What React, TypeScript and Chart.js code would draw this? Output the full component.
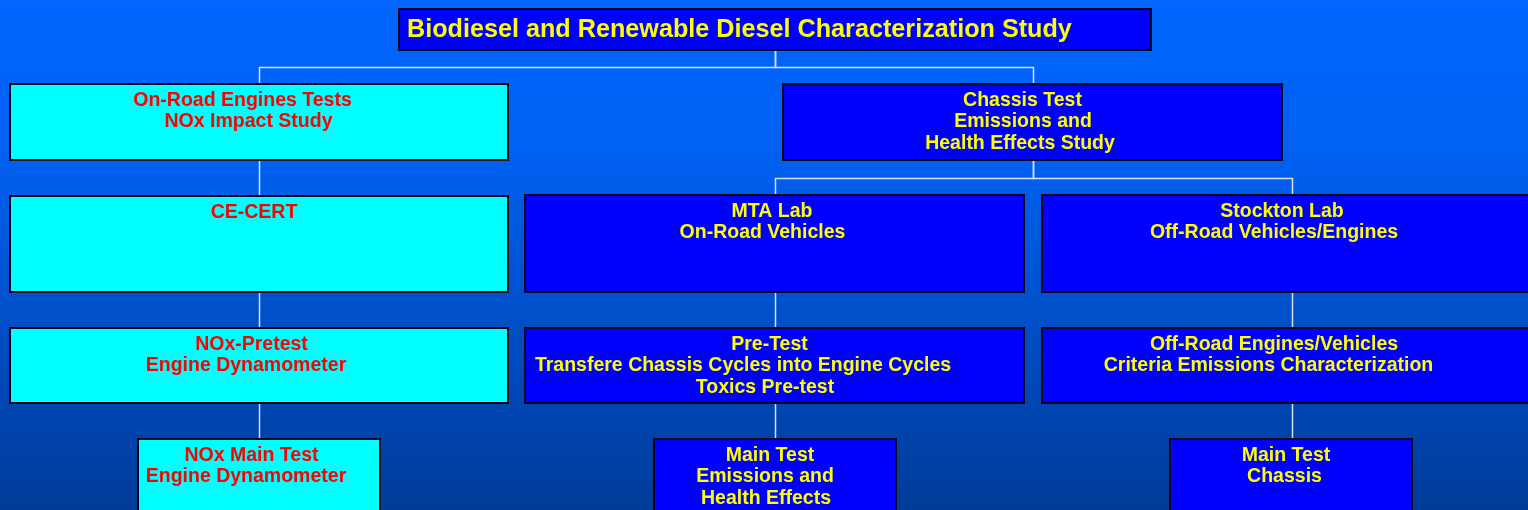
import React, { useEffect, useRef } from "react";
import { Chart, registerables } from "chart.js";

Chart.register(...registerables);

// ---- Data ----
const nodeLabels: string[][] = [
  ["Biodiesel and Renewable Diesel Characterization Study"],
  ["On-Road Engines Tests", "NOx Impact Study"],
  ["Chassis Test", "Emissions and", "Health Effects Study"],
  ["CE-CERT"],
  ["MTA Lab", "On-Road Vehicles"],
  ["Stockton Lab", "Off-Road Vehicles/Engines"],
  ["NOx-Pretest", "Engine Dynamometer"],
  ["Pre-Test", "Transfere Chassis Cycles into Engine Cycles", "Toxics Pre-test"],
  ["Off-Road Engines/Vehicles", "Criteria Emissions Characterization"],
  ["NOx Main Test", "Engine Dynamometer"],
  ["Main Test", "Emissions and", "Health Effects"],
  ["Main Test", "Chassis"],
];
const nodeParents: number[] = [-1, 0, 0, 1, 2, 2, 3, 4, 5, 6, 7, 8];
const nodeBranch: string[] = [
  "root", "engine", "chassis", "engine", "chassis", "chassis",
  "engine", "chassis", "chassis", "engine", "chassis", "chassis",
];

// ---- Layout (positions in scale units) ----
const layoutBoxes: [number, number, number, number][] = [
  [399, 9, 1151, 50],
  [10, 84, 508, 160],
  [783, 84, 1282, 160],
  [10, 196, 508, 292],
  [525, 195, 1024, 292],
  [1042, 195, 1541, 292],
  [10, 328, 508, 403],
  [525, 328, 1024, 403],
  [1042, 328, 1541, 403],
  [138, 439, 380, 516],
  [654, 439, 896, 516],
  [1170, 439, 1412, 516],
];
// horizontal shift of each text line from box centre (text-box inset / trailing spaces)
const layoutLineShift: number[][] = [
  [0],
  [-16.5, -10.5],
  [-10, -9.5, -12.5],
  [-5],
  [-2.5, -12],
  [-9.5, -17.5],
  [-7.5, -13],
  [-5, -31.5, -9.5],
  [-17.5, -23],
  [-7.5, -13],
  [-5, -10, -9],
  [-5, -6.5],
];

const STYLE: Record<string, { fill: string; text: string }> = {
  root: { fill: "#0000FF", text: "#FFFF00" },
  engine: { fill: "#00FFFF", text: "#FF0000" },
  chassis: { fill: "#0000FF", text: "#FFFF00" },
};

const W = 1528;
const H = 510;

const orgPlugin = {
  id: "orgchart",
  beforeDraw(chart: any) {
    const ctx = chart.ctx as CanvasRenderingContext2D;
    const g = ctx.createLinearGradient(0, 0, 0, chart.height);
    g.addColorStop(0, "#0066FF");
    g.addColorStop(0.3, "#0061F2");
    g.addColorStop(1, "#003B98");
    ctx.save();
    ctx.fillStyle = g;
    ctx.fillRect(0, 0, chart.width, chart.height);
    ctx.restore();
  },
  afterDatasetsDraw(chart: any) {
    const ctx = chart.ctx as CanvasRenderingContext2D;
    const xs = chart.scales.x;
    const ys = chart.scales.y;
    const px = (v: number) => xs.getPixelForValue(v);
    const py = (v: number) => ys.getPixelForValue(v);
    const rect = (i: number) => {
      const [x0, y0, x1, y1] = layoutBoxes[i];
      return { l: px(x0), t: py(y0), r: px(x1), b: py(y1) };
    };

    // connectors
    ctx.save();
    ctx.strokeStyle = "#D6E0F8";
    ctx.lineWidth = 1.5;
    nodeParents.forEach((p, i) => {
      if (p < 0) return;
      const a = rect(p);
      const c = rect(i);
      const ax = Math.round((a.l + a.r) / 2) + 0.5;
      const cx = Math.round((c.l + c.r) / 2) + 0.5;
      const mid = Math.round((a.b + c.t) / 2) + 0.5;
      ctx.beginPath();
      if (Math.abs(ax - cx) < 3) {
        ctx.moveTo(ax, a.b);
        ctx.lineTo(ax, c.t);
      } else {
        ctx.moveTo(ax, a.b);
        ctx.lineTo(ax, mid);
        ctx.lineTo(cx, mid);
        ctx.lineTo(cx, c.t);
      }
      ctx.stroke();
    });
    ctx.restore();

    // boxes
    nodeLabels.forEach((lines, i) => {
      const r = rect(i);
      const st = STYLE[nodeBranch[i]];
      ctx.save();
      ctx.fillStyle = st.fill;
      ctx.fillRect(r.l, r.t, r.r - r.l, r.b - r.t);
      ctx.strokeStyle = "#06061A";
      ctx.lineWidth = 2;
      ctx.strokeRect(r.l, r.t, r.r - r.l, r.b - r.t);
      ctx.fillStyle = st.text;
      ctx.textBaseline = "middle";
      if (nodeBranch[i] === "root") {
        ctx.font = "bold 25.2px 'Liberation Sans', Arial, sans-serif";
        ctx.textAlign = "left";
        ctx.fillText(lines[0], r.l + 8, (r.t + r.b) / 2 + 0.5);
      } else {
        ctx.font = "bold 19.5px 'Liberation Sans', Arial, sans-serif";
        ctx.textAlign = "center";
        const cx = (r.l + r.r) / 2;
        lines.forEach((ln, k) => {
          ctx.fillText(ln, cx + (layoutLineShift[i][k] || 0), r.t + 16.5 + k * 21.5);
        });
      }
      ctx.restore();
    });
  },
};

export default function App() {
  const ref = useRef<HTMLCanvasElement | null>(null);
  useEffect(() => {
    if (!ref.current) return;
    const centers = layoutBoxes.map(([x0, y0, x1, y1]) => ({ x: (x0 + x1) / 2, y: (y0 + y1) / 2 }));
    const chart = new Chart(ref.current, {
      type: "scatter",
      data: {
        datasets: [{ data: centers, pointRadius: 0, pointHoverRadius: 0 }],
      },
      options: {
        animation: false,
        responsive: false,
        maintainAspectRatio: false,
        events: [],
        layout: { padding: 0 },
        plugins: { legend: { display: false }, tooltip: { enabled: false } },
        scales: {
          x: { type: "linear", min: 0, max: W, display: false },
          y: { type: "linear", min: 0, max: H, reverse: true, display: false },
        },
      },
      plugins: [orgPlugin],
    });
    return () => chart.destroy();
  }, []);
  return (
    <div style={{ position: "fixed", left: 0, top: 0, width: W, height: H }}>
      <canvas ref={ref} width={W} height={H} style={{ width: W, height: H, display: "block" }} />
    </div>
  );
}
